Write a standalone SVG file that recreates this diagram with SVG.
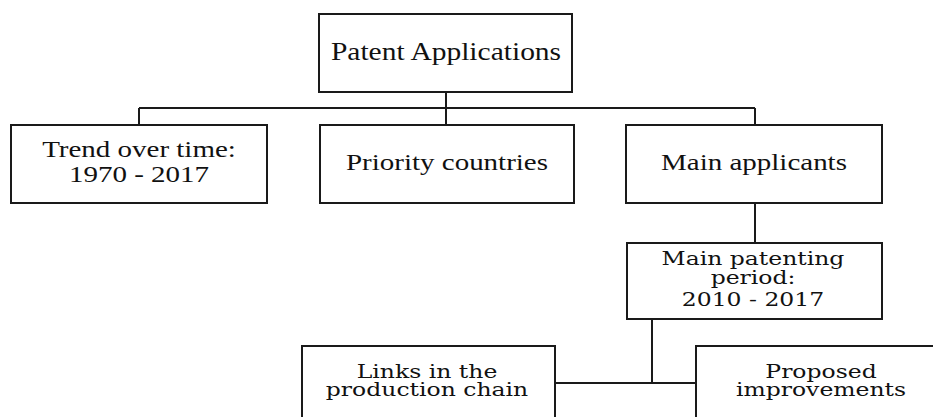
<svg xmlns="http://www.w3.org/2000/svg" width="933" height="417" viewBox="0 0 933 417">
<style>
.box{fill:#fff;stroke:#1a1a1a;stroke-width:2}
.ln{fill:none;stroke:#1a1a1a;stroke-width:2}
.t1{font-family:"Liberation Serif","Times New Roman",serif;font-size:29px;fill:#111;text-anchor:middle}
.t2{font-family:"DejaVu Serif",serif;font-size:23.5px;fill:#111;text-anchor:middle}
</style>
<rect width="933" height="417" fill="#fff"/>
<g id="connectors">
<path class="ln" d="M446 92V108M139 108H755M139 108V125M446 108V125M755 108V125"/>
<path class="ln" d="M755 203V243"/>
<path class="ln" d="M652 319V383M555 383H696"/>
</g>
<g id="root"><rect class="box" x="319" y="14" width="253" height="78"/><text class="t1" transform="translate(446,60) scale(1,0.82)" style="font-size:29.5px">Patent Applications</text></g>
<g id="trend"><rect class="box" x="11" y="125" width="256" height="78"/><text class="t1" transform="translate(139,157) scale(1,0.82)">Trend over time:</text><text class="t1" transform="translate(139,182) scale(1,0.82)">1970 - 2017</text></g>
<g id="priority"><rect class="box" x="320" y="125" width="254" height="78"/><text class="t1" transform="translate(447,170) scale(1,0.82)">Priority  countries</text></g>
<g id="applicants"><rect class="box" x="626" y="125" width="256" height="78"/><text class="t1" transform="translate(754,170) scale(1,0.82)">Main applicants</text></g>
<g id="period"><rect class="box" x="627" y="243" width="255" height="76"/><text class="t2" transform="translate(753,265) scale(1,0.78)">Main patenting</text><text class="t2" transform="translate(753,284) scale(1,0.78)">period:</text><text class="t2" transform="translate(753,306) scale(1,0.78)">2010 - 2017</text></g>
<g id="links"><rect class="box" x="302" y="346" width="253" height="80"/><text class="t2" transform="translate(427,378) scale(1,0.78)">Links in the</text><text class="t2" transform="translate(427,396) scale(1,0.78)">production chain</text></g>
<g id="proposed"><rect class="box" x="696" y="346" width="250" height="80"/><text class="t2" transform="translate(821,378) scale(1,0.78)">Proposed</text><text class="t2" transform="translate(821,396) scale(1,0.78)">improvements</text></g>
</svg>
